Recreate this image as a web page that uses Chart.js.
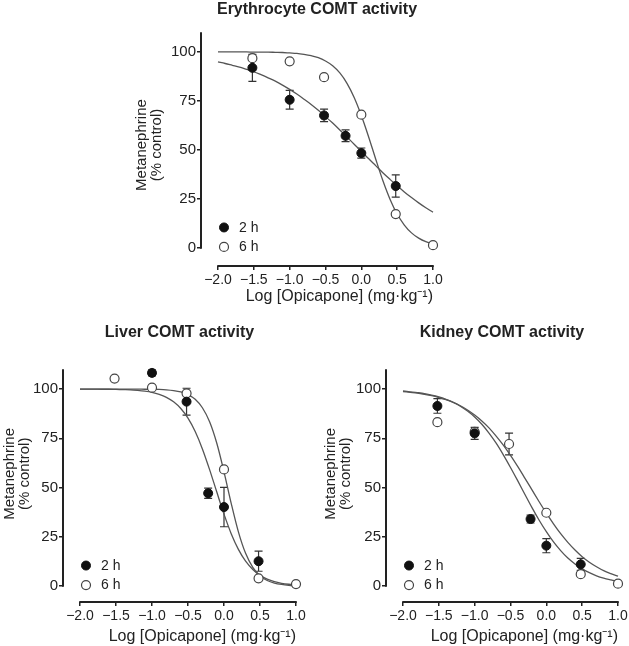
<!DOCTYPE html>
<html>
<head>
<meta charset="utf-8">
<title>Opicapone - COMT activity</title>
<script src="https://cdn.jsdelivr.net/npm/chart.js@4.4.1/dist/chart.umd.min.js"></script>
<style>
  body { margin: 0; background: #fff; }
  #wrap { position: relative; width: 629px; height: 646px; }
  canvas { position: absolute; }
</style>
</head>
<body>
<div id="wrap">
  <canvas id="ery" width="629" height="318" style="left:0;top:0"></canvas>
  <canvas id="liver" width="320" height="328" style="left:0;top:318px"></canvas>
  <canvas id="kidney" width="309" height="328" style="left:320px;top:318px"></canvas>
</div>
<script>
// ---------------------------------------------------------------------------
// data (log dose in mg/kg, metanephrine in % of control)
// ---------------------------------------------------------------------------

const xTicks = [-2.0, -1.5, -1.0, -0.5, 0.0, 0.5, 1.0];
const yTicks = [0, 25, 50, 75, 100];

// x positions where the fitted curves were read
const curveX = [-2.0, -1.9, -1.8, -1.7, -1.6, -1.5, -1.4, -1.3, -1.2, -1.1, -1.0,
                -0.9, -0.8, -0.7, -0.6, -0.5, -0.4, -0.3, -0.2, -0.1, 0.0,
                 0.1,  0.2,  0.3,  0.4,  0.5,  0.6,  0.7,  0.8,  0.9, 1.0];

// Erythrocyte
const ery2hX   = [-1.52, -1.0, -0.52, -0.22, 0.0, 0.48];
const ery2hY   = [91.9, 75.6, 67.6, 57.2, 48.4, 31.6];
const ery2hErr = [6.9, 4.8, 3.2, 3.0, 2.6, 5.7];
const ery6hX   = [-1.52, -1.0, -0.52, 0.0, 0.48, 1.0];
const ery6hY   = [96.8, 95.2, 87.1, 68.0, 17.3, 1.4];
const ery6hErr = [0, 0, 0, 0, 0, 0];
const eryFit2h = [94.9, 94.1, 93.2, 92.3, 91.1, 89.9, 88.4, 86.8, 85.1, 83.1, 80.9,
                  78.5, 75.9, 73.2, 70.2, 67.0, 63.7, 60.2, 56.6, 52.9, 49.3,
                  45.6, 42.0, 38.4, 35.0, 31.7, 28.6, 25.7, 23.0, 20.5, 18.2];
const eryFit6h = [100.0, 100.0, 100.0, 100.0, 100.0, 99.9, 99.9, 99.9, 99.8, 99.7, 99.5,
                  99.3, 98.8, 98.1, 97.1, 95.4, 93.0, 89.3, 84.0, 76.8, 67.6,
                  56.9, 45.4, 34.4, 24.9, 17.3, 11.7, 7.7, 5.0, 3.2, 2.1];

// Liver
const liver2hX   = [-1.0, -0.52, -0.22, 0.0, 0.48];
const liver2hY   = [108.2, 93.6, 47.1, 40.1, 12.6];
const liver2hErr = [1.5, 6.8, 2.6, 10.0, 5.1];
const liver6hX   = [-1.52, -1.0, -0.52, 0.0, 0.48, 1.0];
const liver6hY   = [105.3, 100.7, 97.8, 59.2, 3.9, 1.0];
const liver6hErr = [0, 0, 0, 0, 0, 0];
const liverFit2h = [100.0, 100.0, 100.0, 99.9, 99.9, 99.8, 99.7, 99.6, 99.3, 98.9, 98.3,
                    97.3, 95.8, 93.5, 90.1, 85.2, 78.4, 69.6, 59.1, 47.7, 36.5,
                    26.6, 18.6, 12.6, 8.4, 5.4, 3.5, 2.2, 1.4, 0.9, 0.6];
const liverFit6h = [100.0, 100.0, 100.0, 100.0, 100.0, 100.0, 100.0, 100.0, 100.0, 99.9, 99.9,
                    99.8, 99.6, 99.2, 98.5, 97.2, 94.8, 90.5, 83.4, 72.5, 58.0,
                    42.0, 27.5, 16.6, 9.5, 5.2, 2.8, 1.5, 0.8, 0.4, 0.2];

// Kidney
const kidney2hX   = [-1.52, -1.0, -0.22, 0.0, 0.48];
const kidney2hY   = [91.4, 77.5, 34.0, 20.5, 11.0];
const kidney2hErr = [3.7, 3.0, 2.0, 3.6, 3.0];
const kidney6hX   = [-1.52, -1.0, -0.52, 0.0, 0.48, 1.0];
const kidney6hY   = [83.2, 78.3, 72.1, 37.2, 6.0, 1.2];
const kidney6hErr = [0, 0, 5.5, 0, 0, 0];
const kidneyFit2h = [99.0, 98.6, 98.2, 97.7, 96.9, 96.0, 94.8, 93.3, 91.3, 88.8, 85.8,
                     82.1, 77.6, 72.5, 66.6, 60.2, 53.5, 46.6, 39.8, 33.4, 27.6,
                     22.4, 18.0, 14.2, 11.2, 8.7, 6.8, 5.2, 4.0, 3.1, 2.3];
const kidneyFit6h = [98.7, 98.3, 97.9, 97.3, 96.6, 95.7, 94.6, 93.2, 91.5, 89.4, 86.8,
                     83.8, 80.3, 76.1, 71.5, 66.3, 60.7, 54.8, 48.8, 42.8, 37.0,
                     31.6, 26.6, 22.2, 18.3, 14.9, 12.1, 9.8, 7.8, 6.3, 5.0];


// ---------------------------------------------------------------------------
// helpers
// ---------------------------------------------------------------------------

const FONT = "'Liberation Sans', Arial, sans-serif";
const INK = '#222';

function pts(xs, ys) {
    return xs.map((x, i) => ({ x: x, y: ys[i] }));
}

// error bars under the markers, detached axes + legend on top
const framePlugin = {
    id: 'frame',
    beforeDatasetsDraw(chart) {
        const ctx = chart.ctx, xs = chart.scales.x, ys = chart.scales.y;
        ctx.save();
        ctx.strokeStyle = '#333';
        ctx.lineWidth = 1.2;
        chart.data.datasets.forEach(ds => {
            if (!ds.errors) return;
            ds.data.forEach((p, i) => {
                const e = ds.errors[i];
                if (!e) return;
                const x = xs.getPixelForValue(p.x);
                const y1 = ys.getPixelForValue(p.y + e);
                const y2 = ys.getPixelForValue(p.y - e);
                ctx.beginPath();
                ctx.moveTo(x, y1); ctx.lineTo(x, y2);
                ctx.moveTo(x - 4, y1); ctx.lineTo(x + 4, y1);
                ctx.moveTo(x - 4, y2); ctx.lineTo(x + 4, y2);
                ctx.stroke();
            });
        });
        ctx.restore();
    },
    afterDatasetsDraw(chart) {
        const ctx = chart.ctx, xs = chart.scales.x, ys = chart.scales.y;
        const a = chart.chartArea;
        const y0 = ys.getPixelForValue(0);
        ctx.save();
        ctx.strokeStyle = INK;
        ctx.lineWidth = 2;
        ctx.beginPath();
        ctx.moveTo(a.left, y0 + 0.75);
        ctx.lineTo(a.left, ys.getPixelForValue(110));
        ctx.moveTo(xs.getPixelForValue(-2) - 0.75, a.bottom);
        ctx.lineTo(xs.getPixelForValue(1) + 0.75, a.bottom);
        ctx.stroke();

        // legend, bottom left inside the frame
        ctx.font = '14px ' + FONT;
        ctx.textBaseline = 'middle';
        let row = 0;
        chart.data.datasets.forEach(ds => {
            if (!ds.label) return;
            const cx = a.left + 23, cy = y0 - 20.5 + row * 19.5;
            ctx.beginPath();
            ctx.arc(cx, cy, 4.5, 0, Math.PI * 2);
            ctx.fillStyle = ds.backgroundColor;
            ctx.fill();
            ctx.lineWidth = ds.borderWidth;
            ctx.strokeStyle = ds.borderColor;
            ctx.stroke();
            ctx.fillStyle = INK;
            ctx.fillText(ds.label, cx + 15, cy + 0.5);
            row++;
        });
        ctx.restore();
    }
};

function curve(data) {
    return {
        data: data,
        showLine: true,
        borderColor: '#555',
        borderWidth: 1.3,
        pointRadius: 0,
        pointHoverRadius: 0,
        cubicInterpolationMode: 'monotone',
        clip: false
    };
}

function makeChart(id, p) {
    return new Chart(document.getElementById(id), {
        type: 'scatter',
        data: {
            datasets: [
                { label: '2 h', data: pts(p.x2, p.y2), errors: p.e2,
                  backgroundColor: '#111', borderColor: '#111', borderWidth: 1,
                  pointRadius: 4.5, pointHoverRadius: 4.5, clip: false },
                { label: '6 h', data: pts(p.x6, p.y6), errors: p.e6,
                  backgroundColor: '#fff', borderColor: '#444', borderWidth: 1.2,
                  pointRadius: 4.5, pointHoverRadius: 4.5, clip: false },
                curve(pts(curveX, p.fit2)),
                curve(pts(curveX, p.fit6))
            ]
        },
        options: {
            responsive: false,
            animation: false,
            devicePixelRatio: 1,
            layout: { padding: p.pad },
            plugins: {
                legend: { display: false },
                tooltip: { enabled: false },
                title: {
                    display: true,
                    text: p.title,
                    fullSize: false,
                    color: INK,
                    font: { family: FONT, size: 16, weight: 'bold', lineHeight: 1.2 },
                    padding: { top: 0, bottom: p.titleGap }
                }
            },
            scales: {
                x: {
                    type: 'linear',
                    bounds: 'data',
                    min: p.xMin,
                    max: 1,
                    afterBuildTicks: s => { s.ticks = xTicks.map(v => ({ value: v })); },
                    afterFit: s => { s.height = p.xH; s.paddingLeft = 0; s.paddingRight = 0; },
                    grid: { drawOnChartArea: false, drawTicks: true, tickLength: 4, color: INK, lineWidth: 1.5 },
                    border: { display: false },
                    ticks: {
                        padding: 1.6,
                        color: INK,
                        autoSkip: false,
                        maxRotation: 0,
                        font: { family: FONT, size: 14 },
                        callback: v => (v < 0 ? '\u2212' : '') + Math.abs(v).toFixed(1)
                    },
                    title: {
                        display: true,
                        text: 'Log [Opicapone] (mg\u00b7kg\u207b\u00b9)',
                        align: 'end',
                        color: INK,
                        font: { family: FONT, size: 16, lineHeight: 1.2 },
                        padding: 0
                    }
                },
                y: {
                    type: 'linear',
                    bounds: 'data',
                    min: p.yMin,
                    max: p.yMax,
                    afterBuildTicks: s => { s.ticks = yTicks.map(v => ({ value: v })); },
                    afterFit: s => { s.width = p.yW; s.paddingTop = 0; s.paddingBottom = 0; },
                    grid: { drawOnChartArea: false, drawTicks: true, tickLength: 4, color: INK, lineWidth: 1.5 },
                    border: { display: false },
                    ticks: { padding: 1, color: INK, font: { family: FONT, size: 15 } },
                    title: {
                        display: true,
                        text: ['Metanephrine', '(% control)'],
                        color: INK,
                        font: { family: FONT, size: 15, lineHeight: 1.0 },
                        padding: 0
                    }
                }
            }
        },
        plugins: [framePlugin]
    });
}


// ---------------------------------------------------------------------------
// the three panels
// ---------------------------------------------------------------------------

makeChart('ery', {
    title: 'Erythrocyte COMT activity',
    x2: ery2hX, y2: ery2hY, e2: ery2hErr,
    x6: ery6hX, y6: ery6hY, e6: ery6hErr,
    fit2: eryFit2h, fit6: eryFit6h,
    pad: { left: 134.5, right: 196, top: 0, bottom: 11.4 },
    titleGap: 4.9, yW: 66.5, xH: 40.6,
    xMin: -2.237, yMin: -9.2, yMax: 114.2
});

makeChart('liver', {
    title: 'Liver COMT activity',
    x2: liver2hX, y2: liver2hY, e2: liver2hErr,
    x6: liver6hX, y6: liver6hY, e6: liver6hErr,
    fit2: liverFit2h, fit6: liverFit6h,
    pad: { left: 2.5, right: 24, top: 5.4, bottom: 0 },
    titleGap: 3.1, yW: 60.5, xH: 44,
    xMin: -2.236, yMin: -8.1, yMax: 122
});

makeChart('kidney', {
    title: 'Kidney COMT activity',
    x2: kidney2hX, y2: kidney2hY, e2: kidney2hErr,
    x6: kidney6hX, y6: kidney6hY, e6: kidney6hErr,
    fit2: kidneyFit2h, fit6: kidneyFit6h,
    pad: { left: 3.5, right: 11, top: 5.4, bottom: 0 },
    titleGap: 3.1, yW: 62.5, xH: 44,
    xMin: -2.237, yMin: -8.1, yMax: 122
});
</script>
</body>
</html>
